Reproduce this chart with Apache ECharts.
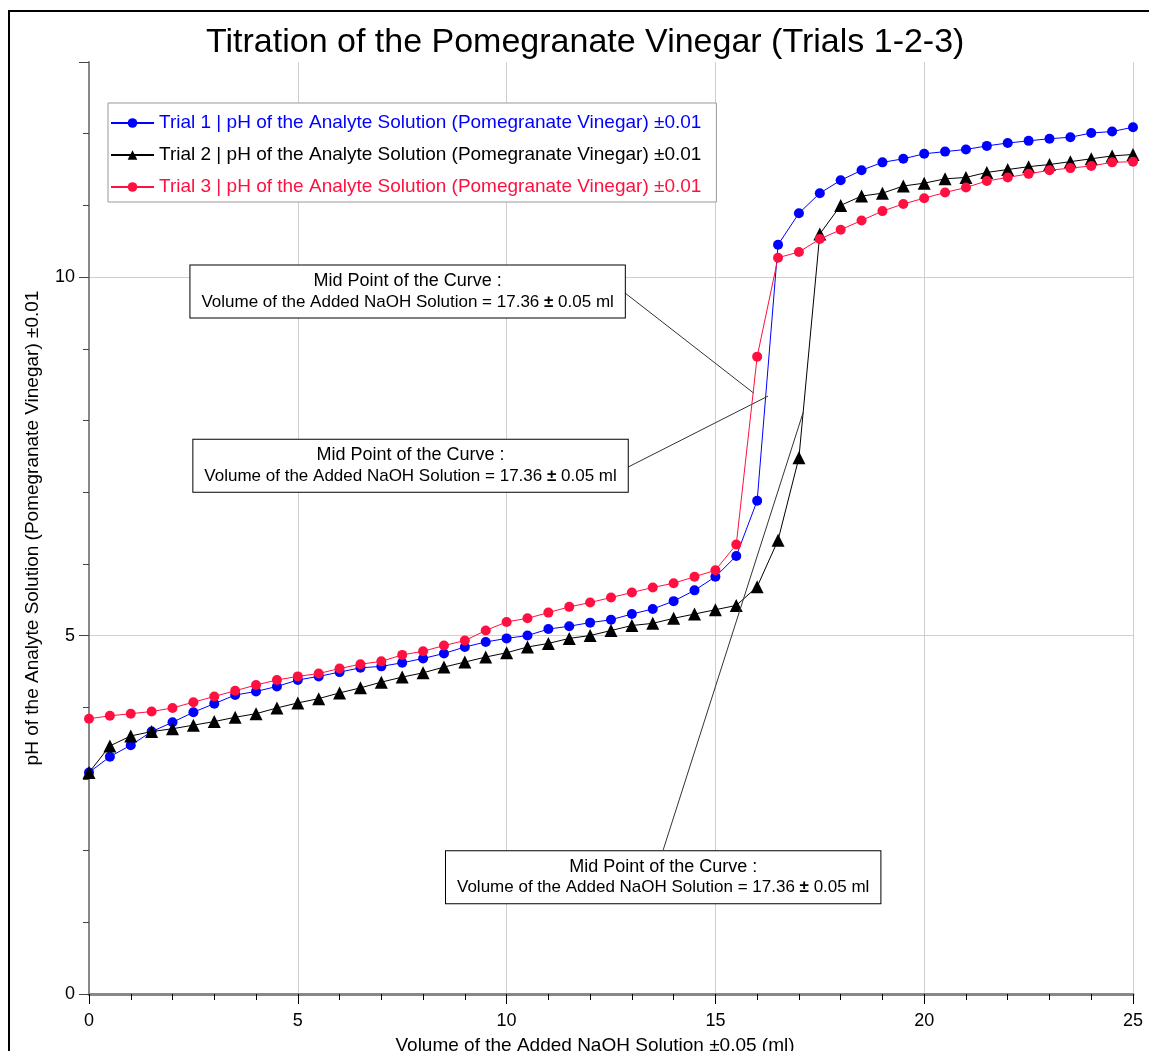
<!DOCTYPE html>
<html>
<head>
<meta charset="utf-8">
<script src="https://cdn.jsdelivr.net/npm/echarts@6/dist/echarts.min.js"></script>
<style>
html,body{margin:0;padding:0;background:#fff;}
#chart{width:1149px;height:1051px;}
</style>
</head>
<body>
<div id="chart"></div>
<script>
// ---- Data ----
const volumes = [0,0.5,1,1.5,2,2.5,3,3.5,4,4.5,5,5.5,6,6.5,7,7.5,8,8.5,9,9.5,10,10.5,11,11.5,12,12.5,13,13.5,14,14.5,15,15.5,16,16.5,17,17.5,18,18.5,19,19.5,20,20.5,21,21.5,22,22.5,23,23.5,24,24.5,25];
const trial1 = [3.09,3.31,3.47,3.66,3.79,3.93,4.05,4.17,4.22,4.29,4.38,4.43,4.49,4.55,4.57,4.62,4.68,4.75,4.84,4.91,4.96,5.00,5.09,5.13,5.18,5.22,5.30,5.37,5.48,5.63,5.82,6.11,6.88,10.45,10.89,11.17,11.35,11.49,11.60,11.65,11.72,11.75,11.78,11.83,11.87,11.90,11.93,11.95,12.01,12.03,12.09];
const trial2 = [3.09,3.46,3.60,3.66,3.70,3.75,3.80,3.86,3.91,3.99,4.06,4.12,4.20,4.27,4.35,4.42,4.48,4.56,4.63,4.70,4.76,4.84,4.89,4.96,5.00,5.07,5.14,5.17,5.24,5.30,5.36,5.42,5.68,6.33,7.48,10.60,11.00,11.13,11.17,11.27,11.31,11.37,11.39,11.46,11.50,11.54,11.57,11.61,11.65,11.69,11.71];
const trial3 = [3.84,3.88,3.91,3.94,3.99,4.07,4.15,4.23,4.31,4.38,4.43,4.47,4.54,4.60,4.64,4.73,4.78,4.86,4.93,5.07,5.19,5.24,5.32,5.40,5.46,5.53,5.60,5.67,5.73,5.82,5.91,6.27,8.89,10.27,10.35,10.53,10.66,10.79,10.92,11.02,11.10,11.18,11.25,11.34,11.39,11.44,11.49,11.52,11.55,11.60,11.61];
const seriesNames = [
  'Trial 1 | pH of the Analyte Solution (Pomegranate Vinegar) ±0.01',
  'Trial 2 | pH of the Analyte Solution (Pomegranate Vinegar) ±0.01',
  'Trial 3 | pH of the Analyte Solution (Pomegranate Vinegar) ±0.01'
];
const xTickLabels = [0,5,10,15,20,25];
const yTickLabels = [0,5,10];
// annotation boxes (centre, data coords) and leader lines (data coords)
const noteBoxes = [[7.63,9.80],[7.70,7.37],[13.75,1.63]];
const noteLines = [
  [[12.81,9.79],[15.92,8.38]],
  [[12.91,7.35],[16.26,8.34]],
  [[13.75,2.01],[17.10,8.11]]
];
const noteText = '{a|Mid Point of the Curve :}\n{b|Volume of the Added NaOH Solution = 17.36 }{c|±}{b| 0.05 ml}';

const FONT = 'Liberation Sans, Arial, sans-serif';
const colors = ['#0000ff','#000000','#ff1040'];
const pair = (ys) => volumes.map((v,i)=>[v, ys[i]]);

const chart = echarts.init(document.getElementById('chart'));
const option = {
  animation: false,
  backgroundColor: '#fff',
  textStyle: {fontFamily: FONT},
  title: {
    text: 'Titration of the Pomegranate Vinegar (Trials 1-2-3)',
    left: 201, top: 21,
    textStyle: {fontFamily: FONT, fontSize: 34, fontWeight: 'normal', color: '#000'}
  },
  grid: {left: 89, right: 16, top: 62, bottom: 57, containLabel: false, outerBoundsMode: 'none'},
  legend: {
    orient: 'vertical', left: 108, top: 103,
    itemWidth: 43, itemHeight: 12, itemGap: 12,
    padding: [10, 15, 5, 2],
    backgroundColor: '#fff', borderColor: '#999', borderWidth: 1,
    textStyle: {fontFamily: FONT, fontSize: 19, lineHeight: 20},
    data: seriesNames.map((n,i)=>({name:n, textStyle:{color: colors[i]}}))
  },
  xAxis: {
    type: 'value', min: 0, max: 25, interval: 5,
    name: 'Volume of the Added NaOH Solution ±0.05 (ml)',
    nameLocation: 'middle', nameGap: 42,
    nameTextStyle: {fontFamily: FONT, fontSize: 19, color: '#000', padding: [0, 32, 0, 0]},
    axisLine: {onZero: false, lineStyle: {color: '#888', width: 3}},
    axisTick: {show: true, length: 10, lineStyle: {color: '#000'}},
    minorTick: {show: true, splitNumber: 5, length: 6, lineStyle: {color: '#000'}},
    axisLabel: {fontFamily: FONT, fontSize: 18, color: '#000', margin: 18,
      formatter: v => xTickLabels.includes(v) ? String(v) : ''},
    splitLine: {show: true, lineStyle: {color: '#cfcfcf', width: 1}},
    minorSplitLine: {show: false}
  },
  yAxis: {
    type: 'value', min: 0, max: 13, interval: 5,
    name: 'pH of the Analyte Solution (Pomegranate Vinegar) ±0.01',
    nameLocation: 'middle', nameGap: 47,
    nameTextStyle: {fontFamily: FONT, fontSize: 19, color: '#000'},
    axisLine: {show: true, lineStyle: {color: '#888', width: 2}},
    axisTick: {show: true, length: 10, lineStyle: {color: '#444'}},
    minorTick: {show: true, splitNumber: 5, length: 6, lineStyle: {color: '#444'}},
    axisLabel: {fontFamily: FONT, fontSize: 18, color: '#000', margin: 14,
      formatter: v => yTickLabels.includes(v) ? String(v) : ''},
    splitLine: {show: true, lineStyle: {color: ['#cfcfcf','#cfcfcf','#cfcfcf','rgba(0,0,0,0)'], width: 1}},
    minorSplitLine: {show: false}
  },
  graphic: [
    {type: 'rect', silent: true, z: -10, shape: {x: 9, y: 11, width: 1200, height: 1100},
     style: {fill: 'none', stroke: '#000', lineWidth: 2}},
    {type: 'group', left: 109, top: 104, z: 100, children: [
      {type: 'rect', shape: {x: 0, y: 0, width: 11, height: 11},
       style: {fill: '#ddd', stroke: '#555', lineWidth: 1}},
      {type: 'line', shape: {x1: 2.5, y1: 2.5, x2: 8.5, y2: 8.5}, style: {stroke: '#333', lineWidth: 1}},
      {type: 'line', shape: {x1: 8.5, y1: 2.5, x2: 2.5, y2: 8.5}, style: {stroke: '#333', lineWidth: 1}}
    ]}
  ],
  series: [
    {name: seriesNames[0], type: 'line', data: pair(trial1), symbol: 'circle', symbolSize: 10,
     color: colors[0], lineStyle: {width: 1, color: colors[0]}, itemStyle: {color: colors[0]}, z: 3},
    {name: seriesNames[1], type: 'line', data: pair(trial2), symbol: 'triangle', symbolSize: 13,
     color: colors[1], lineStyle: {width: 1, color: colors[1]}, itemStyle: {color: colors[1]}, z: 4},
    {name: seriesNames[2], type: 'line', data: pair(trial3), symbol: 'circle', symbolSize: 10,
     color: colors[2], lineStyle: {width: 1, color: colors[2]}, itemStyle: {color: colors[2]}, z: 5},
    {name: 'notes', type: 'line', data: [], z: 10, silent: true,
     markLine: {
       silent: true, symbol: ['none','none'], animation: false,
       lineStyle: {color: '#333', width: 1, type: 'solid'},
       label: {show: false},
       data: noteLines.map(l => [{coord: l[0]}, {coord: l[1]}])
     },
     markPoint: {
       silent: true, animation: false, symbol: 'rect', symbolSize: 1,
       itemStyle: {color: 'rgba(0,0,0,0)'},
       label: {
         show: true, position: 'inside', formatter: noteText,
         backgroundColor: '#fff', borderColor: '#000', borderWidth: 1,
         padding: [5, 11, 5, 11], align: 'center', lineHeight: 21,
         rich: {
           a: {fontFamily: FONT, fontSize: 18, color: '#000', lineHeight: 21, align: 'center'},
           b: {fontFamily: FONT, fontSize: 17, color: '#000', lineHeight: 21},
           c: {fontFamily: FONT, fontSize: 17, color: '#000', fontWeight: 'bold', lineHeight: 21}
         }
       },
       data: noteBoxes.map(c => ({coord: c}))
     }
    }
  ]
};
chart.setOption(option);
</script>
</body>
</html>
